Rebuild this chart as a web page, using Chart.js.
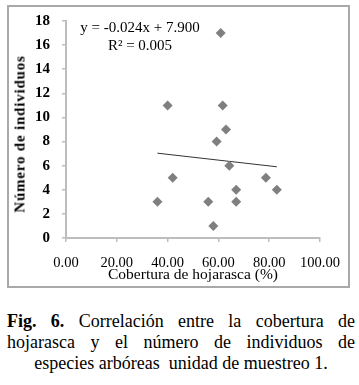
<!DOCTYPE html>
<html>
<head>
<meta charset="utf-8">
<script src="https://cdn.jsdelivr.net/npm/chart.js@4"></script>
<style>
  html, body { margin: 0; padding: 0; background: #fff; }
  body { width: 359px; height: 385px; position: relative; overflow: hidden; font-family: "Liberation Serif", "Times New Roman", serif; color: #000; }
  #frame { position: absolute; left: 7px; top: 5px; width: 339px; height: 279px; border: 2px solid #a9a9a9; }
  #wrap { position: absolute; left: 0; top: 0; width: 359px; height: 290px; }
  .lbl { position: absolute; white-space: nowrap; transform: translate(-50%, -50%); }
  #ytitle { left: 19.5px; top: 134px; transform: translate(-50%, -50%) rotate(-90deg); font-size: 15px; font-weight: bold; letter-spacing: 0.8px; }
  #xtitle { left: 193px; top: 274px; font-size: 15.5px; }
  #eq1 { left: 140px; top: 27px; font-size: 15px; }
  #eq2 { left: 140px; top: 44.5px; font-size: 15px; }
  #caption { position: absolute; left: 7px; top: 311px; width: 348px; font-size: 18px; line-height: 21px; }
  #caption div { text-align: justify; text-align-last: justify; }
  #caption div.last { text-align: center; text-align-last: center; white-space: pre; }
</style>
</head>
<body>
<div id="frame"></div>
<div id="wrap"><canvas id="c" width="359" height="290"></canvas></div>
<div class="lbl" id="ytitle">Número de individuos</div>
<div class="lbl" id="xtitle">Cobertura de hojarasca (%)</div>
<div class="lbl" id="eq1">y = -0.024x + 7.900</div>
<div class="lbl" id="eq2">R² = 0.005</div>
<div id="caption">
  <div><b>Fig. 6.</b> Correlación entre la cobertura de</div>
  <div>hojarasca y el número de individuos de</div>
  <div class="last">especies arbóreas  unidad de muestreo 1.</div>
</div>
<script>
// Data
const coberturaX = [36, 40, 42, 56, 58, 59.3, 60.9, 61.7, 63, 64.3, 67, 67, 78.7, 83];
const individuosY = [3, 11, 5, 3, 1, 8, 17, 11, 9, 6, 4, 3, 5, 4];
// Trend line as printed on the chart: y = -0.024x + 7.900
const trendSlope = -0.024;
const trendIntercept = 7.900;
const xTicks = [0, 20, 40, 60, 80, 100];
const yTicks = [0, 2, 4, 6, 8, 10, 12, 14, 16, 18];

const points = coberturaX.map((x, i) => ({ x: x, y: individuosY[i] }));
const xMin = Math.min(...coberturaX), xMax = Math.max(...coberturaX);
const trend = [xMin, xMax].map(x => ({ x: x, y: trendSlope * x + trendIntercept }));

const axisColor = '#bdbdbd';
const serif = '"Liberation Serif", "Times New Roman", serif';

new Chart(document.getElementById('c'), {
  type: 'scatter',
  data: {
    datasets: [
      {
        label: 'Individuos',
        data: points,
        pointStyle: 'rectRot',
        pointRadius: 5,
        pointHoverRadius: 5,
        backgroundColor: '#7f7f7f',
        borderColor: '#7f7f7f',
        borderWidth: 0,
        order: 1
      },
      {
        label: 'Tendencia',
        type: 'line',
        data: trend,
        borderColor: '#333333',
        borderWidth: 1,
        pointRadius: 0,
        fill: false,
        order: 2
      }
    ]
  },
  options: {
    responsive: false,
    animation: false,
    events: [],
    layout: { padding: { left: 0, top: 15, right: 39, bottom: 0 } },
    plugins: { legend: { display: false }, tooltip: { enabled: false } },
    scales: {
      x: {
        type: 'linear',
        min: 0, max: 100,
        afterBuildTicks: s => { s.ticks = xTicks.map(v => ({ value: v })); },
        afterFit: s => { s.height = 52; },
        border: { display: true, color: axisColor, width: 2 },
        grid: { drawOnChartArea: false, drawTicks: true, tickLength: 4, color: axisColor, lineWidth: 1.5 },
        ticks: {
          padding: 12,
          color: '#000',
          font: { family: serif, size: 14.5 },
          callback: v => Number(v).toFixed(2),
          maxRotation: 0, autoSkip: false
        }
      },
      y: {
        type: 'linear',
        min: 0, max: 18,
        afterBuildTicks: s => { s.ticks = yTicks.map(v => ({ value: v })); },
        afterFit: s => { s.width = 66; },
        border: { display: true, color: axisColor, width: 2 },
        grid: { drawOnChartArea: false, drawTicks: true, tickLength: 4, color: axisColor, lineWidth: 1.5 },
        ticks: {
          padding: 12,
          color: '#000',
          font: { family: serif, size: 15, weight: 'bold' },
          autoSkip: false
        }
      }
    }
  }
});
</script>
</body>
</html>
